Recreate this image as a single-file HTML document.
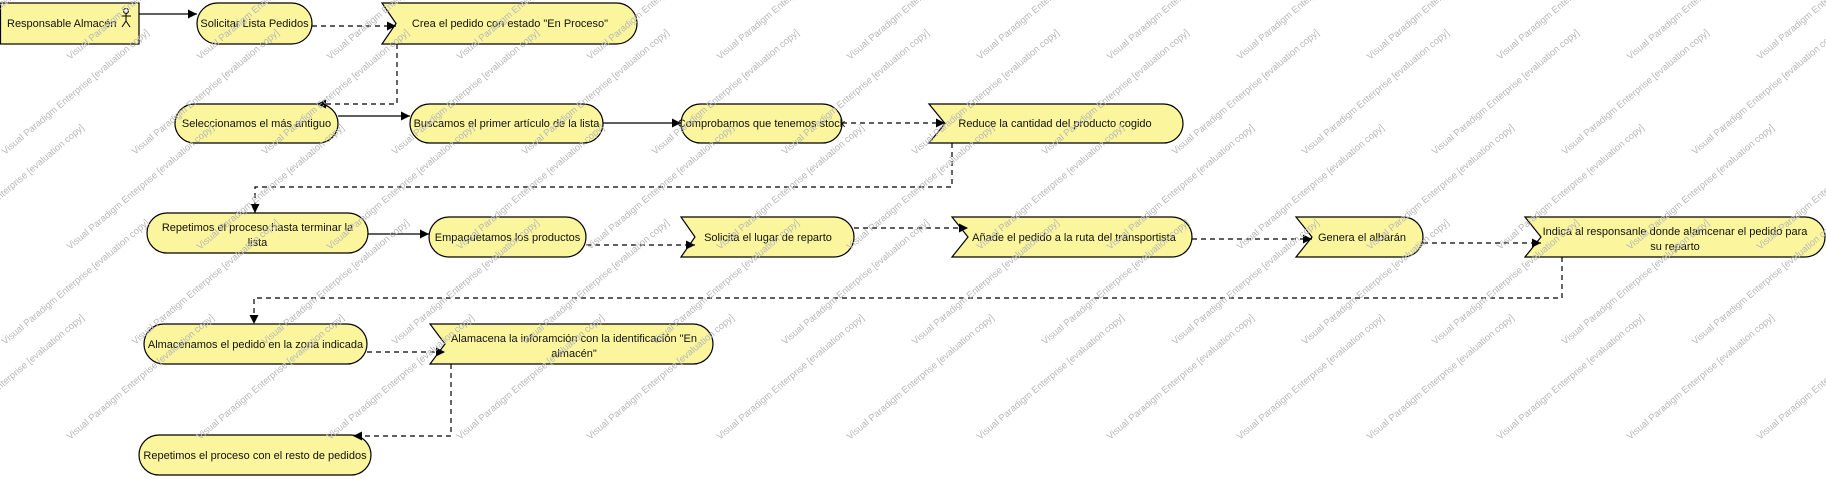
<!DOCTYPE html>
<html><head><meta charset="utf-8"><style>
html,body{margin:0;padding:0;background:#fff;width:1826px;height:479px;overflow:hidden;}
svg{display:block;overflow:hidden;}
.t{font-family:"Liberation Sans",Arial,sans-serif;font-size:11px;fill:#111;}
.w{font-family:"Liberation Sans",Arial,sans-serif;font-size:9.5px;fill:#b8b8b8;}
</style></head><body>
<svg width="1826" height="479" viewBox="0 0 1826 479" xmlns="http://www.w3.org/2000/svg">
<defs>
<marker id="a" viewBox="0 0 10 10" refX="10" refY="5" markerWidth="10" markerHeight="9" markerUnits="userSpaceOnUse" orient="auto"><path d="M0,0 L10,5 L0,10 Z" fill="#000"/></marker>
<text id="wt" class="w" transform="rotate(-40)">Visual Paradigm Enterprise [evaluation copy]</text>
</defs>
<g fill="#fbf59d" stroke="#000" stroke-width="1.2">
<rect x="0.5" y="3" width="138.5" height="41"/>
<rect x="197" y="3" width="115" height="41" rx="20.5"/>
<path d="M382,3 H616.5 A20.5,20.5 0 0 1 616.5,44 H382 L396,23.5 Z"/>
<rect x="175" y="104" width="163" height="39" rx="19.5"/>
<rect x="410" y="104" width="193" height="39" rx="19.5"/>
<rect x="681" y="104" width="161" height="39" rx="19.5"/>
<path d="M929,104 H1163.5 A19.5,19.5 0 0 1 1163.5,143 H929 L945,123.5 Z"/>
<rect x="147" y="213" width="221" height="40" rx="20"/>
<rect x="429" y="217" width="157" height="40" rx="20"/>
<path d="M681,217 H834 A20,20 0 0 1 834,257 H681 L695,237 Z"/>
<path d="M952,217 H1172 A20,20 0 0 1 1172,257 H952 L968,237 Z"/>
<path d="M1296,217 H1403 A20,20 0 0 1 1403,257 H1296 L1312,237 Z"/>
<path d="M1525,217 H1805 A20,20 0 0 1 1805,257 H1525 L1541,237 Z"/>
<rect x="144" y="324" width="223" height="40" rx="20"/>
<path d="M430,324 H693 A20,20 0 0 1 693,364 H430 L445,344 Z"/>
<rect x="139" y="435" width="232" height="40" rx="20"/>
</g>
<g stroke="#000" stroke-width="1" fill="none">
<circle cx="126" cy="11" r="2.5" fill="#fff"/>
<line x1="126" y1="13.5" x2="126" y2="21"/>
<line x1="121" y1="16" x2="131" y2="16"/>
<line x1="126" y1="21" x2="122" y2="27"/>
<line x1="126" y1="21" x2="130" y2="27"/>
</g>
<g stroke="#000" stroke-width="1.2" fill="none" marker-end="url(#a)">
<path d="M139,14 H197"/>
<path d="M338,116 H410"/>
<path d="M603,123 H681"/>
<path d="M368,234 H429"/>
</g>
<g stroke="#000" stroke-width="1.2" fill="none" stroke-dasharray="5,4" marker-end="url(#a)">
<path d="M312,26 H396"/>
<path d="M397,44 V104 H317"/>
<path d="M842,123 H945"/>
<path d="M952,143 V187 H255 V213"/>
<path d="M586,245 H695"/>
<path d="M854,228 H968"/>
<path d="M1192,239 H1312"/>
<path d="M1423,243 H1541"/>
<path d="M1562,257 V298 H254 V324"/>
<path d="M367,352 H445"/>
<path d="M451,364 V436 H353"/>
</g>
<g class="t">
<text x="7" y="27">Responsable Almacén</text>
<text x="254.5" y="27" text-anchor="middle">Solicitar Lista Pedidos</text>
<text x="510" y="27" text-anchor="middle">Crea el pedido con estado "En Proceso"</text>
<text x="256.5" y="127" text-anchor="middle">Seleccionamos el más antiguo</text>
<text x="506.5" y="127" text-anchor="middle">Buscamos el primer artículo de la lista</text>
<text x="761.5" y="127" text-anchor="middle">Comprobamos que tenemos stock</text>
<text x="1055" y="127" text-anchor="middle">Reduce la cantidad del producto cogido</text>
<text x="257.5" y="231" text-anchor="middle">Repetimos el proceso hasta terminar la</text>
<text x="257.5" y="246" text-anchor="middle">lista</text>
<text x="507.5" y="241" text-anchor="middle">Empaquetamos los productos</text>
<text x="768" y="241" text-anchor="middle">Solicita el lugar de reparto</text>
<text x="1074" y="241" text-anchor="middle">Añade el pedido a la ruta del transportista</text>
<text x="1362" y="241" text-anchor="middle">Genera el albarán</text>
<text x="1675" y="235" text-anchor="middle">Indica al responsanle donde alamcenar el pedido para</text>
<text x="1675" y="250" text-anchor="middle">su reparto</text>
<text x="255.5" y="348" text-anchor="middle">Almacenamos el pedido en la zona indicada</text>
<text x="574" y="342" text-anchor="middle">Alamacena la inforamción con la identificación "En</text>
<text x="574" y="357" text-anchor="middle">almacén"</text>
<text x="255" y="459" text-anchor="middle">Repetimos el proceso con el resto de pedidos</text>
</g>
<g>
<use href="#wt" transform="translate(-60,60)"/>
<use href="#wt" transform="translate(70,60)"/><use href="#wt" transform="translate(200,60)"/><use href="#wt" transform="translate(330,60)"/><use href="#wt" transform="translate(460,60)"/><use href="#wt" transform="translate(590,60)"/><use href="#wt" transform="translate(720,60)"/><use href="#wt" transform="translate(850,60)"/><use href="#wt" transform="translate(980,60)"/><use href="#wt" transform="translate(1110,60)"/><use href="#wt" transform="translate(1240,60)"/><use href="#wt" transform="translate(1370,60)"/><use href="#wt" transform="translate(1500,60)"/><use href="#wt" transform="translate(1630,60)"/><use href="#wt" transform="translate(1760,60)"/>
<use href="#wt" transform="translate(5,155)"/><use href="#wt" transform="translate(135,155)"/><use href="#wt" transform="translate(265,155)"/><use href="#wt" transform="translate(395,155)"/><use href="#wt" transform="translate(525,155)"/><use href="#wt" transform="translate(655,155)"/><use href="#wt" transform="translate(785,155)"/><use href="#wt" transform="translate(915,155)"/><use href="#wt" transform="translate(1045,155)"/><use href="#wt" transform="translate(1175,155)"/><use href="#wt" transform="translate(1305,155)"/><use href="#wt" transform="translate(1435,155)"/><use href="#wt" transform="translate(1565,155)"/><use href="#wt" transform="translate(1695,155)"/>
<use href="#wt" transform="translate(-60,250)"/><use href="#wt" transform="translate(70,250)"/><use href="#wt" transform="translate(200,250)"/><use href="#wt" transform="translate(330,250)"/><use href="#wt" transform="translate(460,250)"/><use href="#wt" transform="translate(590,250)"/><use href="#wt" transform="translate(720,250)"/><use href="#wt" transform="translate(850,250)"/><use href="#wt" transform="translate(980,250)"/><use href="#wt" transform="translate(1110,250)"/><use href="#wt" transform="translate(1240,250)"/><use href="#wt" transform="translate(1370,250)"/><use href="#wt" transform="translate(1500,250)"/><use href="#wt" transform="translate(1630,250)"/><use href="#wt" transform="translate(1760,250)"/>
<use href="#wt" transform="translate(5,345)"/><use href="#wt" transform="translate(135,345)"/><use href="#wt" transform="translate(265,345)"/><use href="#wt" transform="translate(395,345)"/><use href="#wt" transform="translate(525,345)"/><use href="#wt" transform="translate(655,345)"/><use href="#wt" transform="translate(785,345)"/><use href="#wt" transform="translate(915,345)"/><use href="#wt" transform="translate(1045,345)"/><use href="#wt" transform="translate(1175,345)"/><use href="#wt" transform="translate(1305,345)"/><use href="#wt" transform="translate(1435,345)"/><use href="#wt" transform="translate(1565,345)"/><use href="#wt" transform="translate(1695,345)"/>
<use href="#wt" transform="translate(-60,440)"/><use href="#wt" transform="translate(70,440)"/><use href="#wt" transform="translate(200,440)"/><use href="#wt" transform="translate(330,440)"/><use href="#wt" transform="translate(460,440)"/><use href="#wt" transform="translate(590,440)"/><use href="#wt" transform="translate(720,440)"/><use href="#wt" transform="translate(850,440)"/><use href="#wt" transform="translate(980,440)"/><use href="#wt" transform="translate(1110,440)"/><use href="#wt" transform="translate(1240,440)"/><use href="#wt" transform="translate(1370,440)"/><use href="#wt" transform="translate(1500,440)"/><use href="#wt" transform="translate(1630,440)"/><use href="#wt" transform="translate(1760,440)"/>
</g>
</svg>
</body></html>
